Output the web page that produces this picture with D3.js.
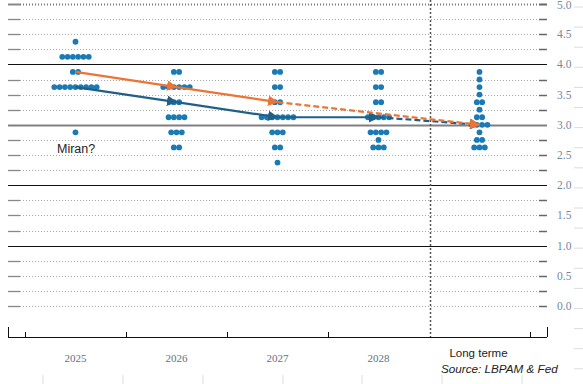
<!DOCTYPE html>
<html lang="en">
<head>
<meta charset="utf-8">
<title>Fed dot plot</title>
<script src="https://d3js.org/d3.v7.min.js"></script>
<style>
  body { margin: 0; background: #fff; }
  svg { display: block; }
</style>
</head>
<body>
<script>
// categories and dots: [rate, number of participants]
var years = ["2025", "2026", "2027", "2028", "Long terme"];
var dots2025 = [[4.375, 1], [4.125, 6], [3.875, 2], [3.625, 9], [2.875, 1]];
var dots2026 = [[3.875, 2], [3.625, 6], [3.375, 2], [3.125, 4], [2.875, 3], [2.625, 2]];
var dots2027 = [[3.875, 2], [3.625, 2], [3.375, 2], [3.125, 7], [2.875, 3], [2.625, 2], [2.375, 1]];
var dots2028 = [[3.875, 2], [3.625, 2], [3.375, 2], [3.125, 5], [2.875, 4], [2.75, 1], [2.625, 3]];
var dotsLong = [[3.875, 1], [3.75, 1], [3.625, 1], [3.5, 1], [3.375, 2], [3.25, 1], [3.125, 2], [3.0, 4], [2.875, 1], [2.75, 2], [2.625, 3]];
var allDots = [dots2025, dots2026, dots2027, dots2028, dotsLong];

// medians: september (blue) and june (orange)
var medianSep = [3.625, 3.375, 3.125, 3.125, 3.0];
var medianJun = [3.875, 3.625, 3.375, null, 3.0];

var yTicks = [0, 0.5, 1, 1.5, 2, 2.5, 3, 3.5, 4, 4.5, 5];

var width = 583, height = 384;

var svg = d3.select("body").append("svg")
    .attr("width", width)
    .attr("height", height);

var y = d3.scaleLinear().domain([0, 5]).range([306, 4]);
var x = d3.scaleLinear().domain([-0.5, 4.5]).range([25, 530]);
var xLeft = x(-0.668), xRight = x(4.668);
var axisY = 337;

// spreadsheet cell borders behind the picture
svg.append("g").selectAll("line")
    .data(d3.range(0, 19))
    .enter().append("line")
    .attr("x1", 574).attr("x2", width)
    .attr("y1", function(d) { return 7 + d * 20.1; })
    .attr("y2", function(d) { return 7 + d * 20.1; })
    .attr("stroke", "#dcdcdc");
svg.append("g").selectAll("line")
    .data([43, 123, 203, 283, 362, 442, 522])
    .enter().append("line")
    .attr("x1", function(d) { return d; }).attr("x2", function(d) { return d; })
    .attr("y1", 375).attr("y2", height)
    .attr("stroke", "#dcdcdc");

// horizontal grid
var levels = d3.range(0, 21).map(function(i) { return i * 0.25; });
var grid = svg.append("g");
levels.forEach(function(v) {
  var yy = Math.round(y(v)) + 0.5;
  if (v === 1 || v === 2 || v === 4) {
    grid.append("line").attr("x1", xLeft).attr("x2", xRight)
      .attr("y1", yy).attr("y2", yy).attr("stroke", "#111").attr("stroke-width", 1.2);
  } else if (v === 3) {
    grid.append("line").attr("x1", xLeft).attr("x2", xRight)
      .attr("y1", yy).attr("y2", yy).attr("stroke", "#808080").attr("stroke-width", 2);
  } else {
    var heavy = (v === 5);
    grid.append("line").attr("x1", xLeft + 12).attr("x2", xRight - 8)
      .attr("y1", yy).attr("y2", yy)
      .attr("stroke", heavy ? "#777" : "#a6a6a6")
      .attr("stroke-width", heavy ? 2 : 1)
      .attr("stroke-dasharray", "1,2");
    // short solid ends
    grid.append("line").attr("x1", xLeft).attr("x2", xLeft + 12)
      .attr("y1", yy).attr("y2", yy).attr("stroke", "#888").attr("stroke-width", heavy ? 2 : 1.3);
    grid.append("line").attr("x1", xRight - 8).attr("x2", xRight)
      .attr("y1", yy).attr("y2", yy).attr("stroke", "#666").attr("stroke-width", heavy ? 2 : 1.5);
  }
});

// right y labels
svg.append("g").selectAll("text")
    .data(yTicks)
    .enter().append("text")
    .attr("x", 557)
    .attr("y", function(d) { return Math.max(y(d) + 4, 9); })
    .attr("font-family", "Liberation Serif, serif")
    .attr("font-size", 11.5)
    .attr("fill", "#7587a0")
    .text(function(d) { return d.toFixed(1); });

// long-term separator
svg.append("line")
    .attr("x1", 430.5).attr("x2", 430.5)
    .attr("y1", 0).attr("y2", axisY)
    .attr("stroke", "#555").attr("stroke-width", 1.5)
    .attr("stroke-dasharray", "2,2");

// x axis
svg.append("line")
    .attr("x1", xLeft).attr("x2", xRight)
    .attr("y1", axisY + 0.5).attr("y2", axisY + 0.5)
    .attr("stroke", "#111");
svg.append("g").selectAll("line")
    .data(d3.range(0, 6).filter(function(k) { return k !== 4; }))
    .enter().append("line")
    .attr("x1", function(k) { return Math.round(x(k - 0.5)) + 0.5; })
    .attr("x2", function(k) { return Math.round(x(k - 0.5)) + 0.5; })
    .attr("y1", axisY - 5).attr("y2", axisY)
    .attr("stroke", "#111");
svg.append("g").selectAll("line")
    .data([xLeft, xRight])
    .enter().append("line")
    .attr("x1", function(d) { return Math.round(d) + 0.5; })
    .attr("x2", function(d) { return Math.round(d) + 0.5; })
    .attr("y1", axisY - 10).attr("y2", axisY)
    .attr("stroke", "#111");

// x labels
svg.append("g").selectAll("text")
    .data(years.slice(0, 4))
    .enter().append("text")
    .attr("x", function(d, i) { return x(i); })
    .attr("y", 362)
    .attr("text-anchor", "middle")
    .attr("font-family", "Liberation Serif, serif")
    .attr("font-size", 11)
    .attr("fill", "#5f6f85")
    .text(function(d) { return d; });

svg.append("text")
    .attr("x", x(4) - 1).attr("y", 357)
    .attr("text-anchor", "middle")
    .attr("font-family", "Liberation Sans, sans-serif")
    .attr("font-size", 11.5)
    .attr("fill", "#222")
    .text(years[4]);

svg.append("text")
    .attr("x", 441).attr("y", 373)
    .attr("font-family", "Liberation Sans, sans-serif")
    .attr("font-style", "italic")
    .attr("font-size", 11.7)
    .attr("fill", "#222")
    .text("Source: LBPAM & Fed");

// dots
var step = 5.3;
var dotData = [];
allDots.forEach(function(rows, i) {
  rows.forEach(function(r) {
    for (var j = 0; j < r[1]; j++) {
      dotData.push({ cx: x(i) + (j - (r[1] - 1) / 2) * step, v: r[0] });
    }
  });
});
svg.append("g").selectAll("circle")
    .data(dotData)
    .enter().append("circle")
    .attr("cx", function(d) { return d.cx; })
    .attr("cy", function(d) { return y(d.v); })
    .attr("r", 2.9)
    .attr("fill", "#1a7ab5");

// median lines with arrow heads
function marker(id, color) {
  svg.append("defs").append("marker")
    .attr("id", id)
    .attr("viewBox", "0 0 10 10")
    .attr("refX", 9).attr("refY", 5)
    .attr("markerWidth", 4.8).attr("markerHeight", 4.8)
    .attr("markerUnits", "strokeWidth")
    .attr("orient", "auto")
    .append("path")
    .attr("d", "M0,0L10,5L0,10Z")
    .attr("fill", color);
}
marker("arrBlue", "#1f5f88");
marker("arrOrange", "#ec7434");

function drawMedian(values, color, markerId) {
  var pts = [];
  values.forEach(function(v, i) { if (v !== null) pts.push([i, v]); });
  for (var k = 1; k < pts.length; k++) {
    var a = pts[k - 1], b = pts[k];
    var dashed = b[0] === 4;
    svg.append("line")
      .attr("x1", x(a[0])).attr("y1", y(a[1]))
      .attr("x2", x(b[0])).attr("y2", y(b[1]))
      .attr("stroke", color)
      .attr("stroke-width", 2.2)
      .attr("stroke-dasharray", dashed ? "6,3" : null)
      .attr("marker-end", "url(#" + markerId + ")");
  }
}
drawMedian(medianSep, "#1f5f88", "arrBlue");
drawMedian(medianJun, "#ec7434", "arrOrange");

// annotation
svg.append("text")
    .attr("x", 57).attr("y", 153)
    .attr("font-family", "Liberation Sans, sans-serif")
    .attr("font-size", 12.5)
    .attr("fill", "#222")
    .text("Miran?");
</script>
</body>
</html>
